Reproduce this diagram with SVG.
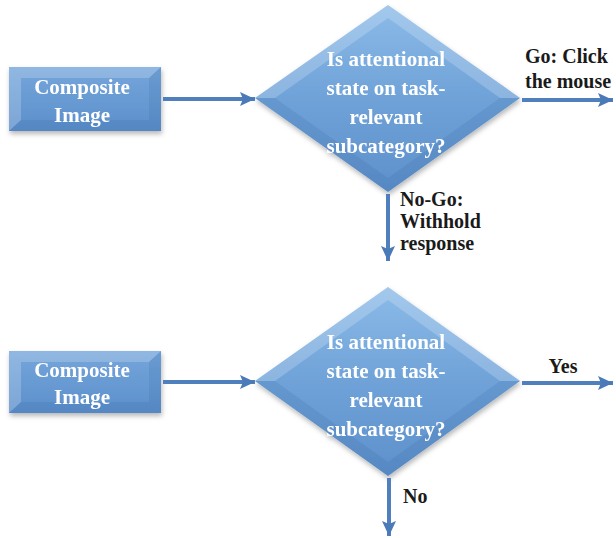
<svg xmlns="http://www.w3.org/2000/svg" width="616" height="538" viewBox="0 0 616 538">
  <style>
    .node-text { font-family: "Liberation Serif", "Times New Roman", serif; font-weight: bold; font-size: 21px; fill: #ffffff; text-anchor: middle; }
    .label { font-family: "Liberation Serif", "Times New Roman", serif; font-weight: bold; font-size: 20px; fill: #1a1a1a; }
    .shaft { stroke: #4f7fbc; stroke-width: 4; fill: none; }
    .facet-light { fill: #ffffff; opacity: 0.2; }
    .facet-dark { fill: #1f4f8a; opacity: 0.12; }
  </style>
  <defs>
    <linearGradient id="boxFill" x1="0" y1="0" x2="0" y2="1">
      <stop offset="0" stop-color="#75a6db"/>
      <stop offset="1" stop-color="#5c8fcb"/>
    </linearGradient>
    <linearGradient id="diamondFill" x1="0" y1="0" x2="0" y2="1">
      <stop offset="0" stop-color="#8cbbe8"/>
      <stop offset="0.5" stop-color="#6fa2d8"/>
      <stop offset="1" stop-color="#5e90cb"/>
    </linearGradient>
    <filter id="shadow" x="-10%" y="-10%" width="125%" height="130%">
      <feDropShadow dx="1" dy="3" stdDeviation="2.5" flood-color="#000000" flood-opacity="0.28"/>
    </filter>
    <marker id="head" markerUnits="userSpaceOnUse" markerWidth="16" markerHeight="16" viewBox="0 0 16 16" refX="15" refY="8" orient="auto">
      <path d="M0,1 L15,8 L0,15 L3,8 Z" fill="#4a7ab8"/>
    </marker>
  </defs>

  <!-- top flow -->
  <g id="box1" filter="url(#shadow)">
    <rect x="9" y="67" width="152" height="64" fill="url(#boxFill)"/>
    <polygon class="facet-light" points="9,67 161,67 149,78 21,78"/>
    <polygon class="facet-light" points="9,67 21,78 21,120 9,131" opacity="0.1"/>
    <polygon class="facet-dark" points="161,67 161,131 149,120 149,78"/>
    <polygon class="facet-dark" points="9,131 161,131 149,120 21,120"/>
    <text class="node-text" x="82" y="94">Composite</text>
    <text class="node-text" x="82" y="122">Image</text>
  </g>

  <g id="decision1" filter="url(#shadow)">
    <polygon points="388,5 520,98 388,192 255,98" fill="url(#diamondFill)"/>
    <polygon class="facet-light" points="388,5 255,98 275,98 388,18"/>
    <polygon class="facet-light" points="388,5 520,98 500,98 388,18" opacity="0.12"/>
    <polygon class="facet-dark" points="255,98 388,192 388,178 275,98"/>
    <polygon class="facet-dark" points="520,98 388,192 388,178 500,98"/>
    <text class="node-text" x="386" y="66">Is attentional</text>
    <text class="node-text" x="386" y="95">state on task-</text>
    <text class="node-text" x="386" y="124">relevant</text>
    <text class="node-text" x="386" y="153">subcategory?</text>
  </g>

  <!-- bottom flow -->
  <g id="box2" filter="url(#shadow)">
    <rect x="9" y="351" width="152" height="62" fill="url(#boxFill)"/>
    <polygon class="facet-light" points="9,351 161,351 149,362 21,362"/>
    <polygon class="facet-light" points="9,351 21,362 21,402 9,413" opacity="0.1"/>
    <polygon class="facet-dark" points="161,351 161,413 149,402 149,362"/>
    <polygon class="facet-dark" points="9,413 161,413 149,402 21,402"/>
    <text class="node-text" x="82" y="377">Composite</text>
    <text class="node-text" x="82" y="404">Image</text>
  </g>

  <g id="decision2" filter="url(#shadow)">
    <polygon points="388,287 520,381 388,476 255,381" fill="url(#diamondFill)"/>
    <polygon class="facet-light" points="388,287 255,381 275,381 388,300"/>
    <polygon class="facet-light" points="388,287 520,381 500,381 388,300" opacity="0.12"/>
    <polygon class="facet-dark" points="255,381 388,476 388,462 275,381"/>
    <polygon class="facet-dark" points="520,381 388,476 388,462 500,381"/>
    <text class="node-text" x="386" y="349">Is attentional</text>
    <text class="node-text" x="386" y="378">state on task-</text>
    <text class="node-text" x="386" y="407">relevant</text>
    <text class="node-text" x="386" y="436">subcategory?</text>
  </g>

  <g id="connectors">
    <line class="shaft" x1="163" y1="99" x2="255" y2="99" marker-end="url(#head)"/>
    <line class="shaft" x1="522" y1="100" x2="613" y2="100" marker-end="url(#head)"/>
    <line class="shaft" x1="388" y1="194" x2="388" y2="261" marker-end="url(#head)"/>
    <line class="shaft" x1="163" y1="382" x2="255" y2="382" marker-end="url(#head)"/>
    <line class="shaft" x1="522" y1="383" x2="613" y2="383" marker-end="url(#head)"/>
    <line class="shaft" x1="389" y1="478" x2="389" y2="536" marker-end="url(#head)"/>
  </g>

  <g id="labels">
    <text class="label" x="525" y="63">Go: Click</text>
    <text class="label" x="525" y="88">the mouse</text>
    <text class="label" x="400" y="206">No-Go:</text>
    <text class="label" x="400" y="228">Withhold</text>
    <text class="label" x="400" y="250">response</text>
    <text class="label" x="563" y="373" text-anchor="middle">Yes</text>
    <text class="label" x="403" y="503">No</text>
  </g>
</svg>
